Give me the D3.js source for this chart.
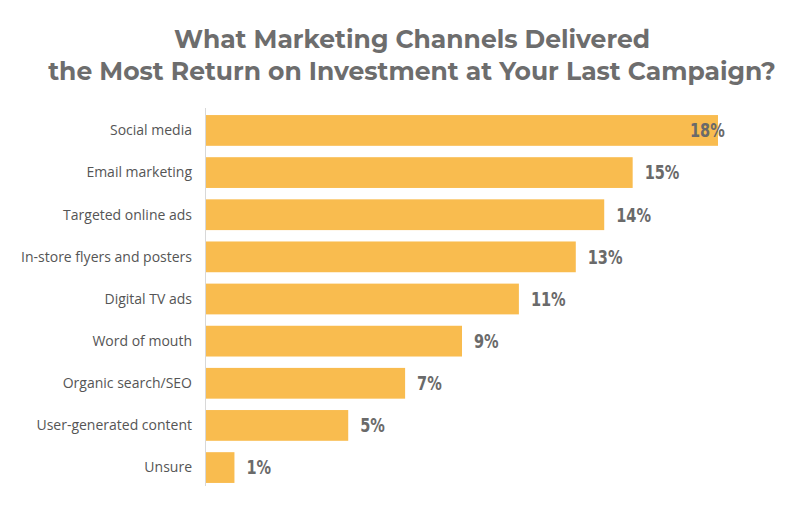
<!DOCTYPE html>
<html><head><meta charset="utf-8">
<script src="https://cdn.jsdelivr.net/npm/d3@7"></script>
<style>body{margin:0;background:#fff;overflow:hidden}</style>
</head><body><svg id="c" width="800" height="513"></svg>
<script>
const categories = ["Social media","Email marketing","Targeted online ads","In-store flyers and posters","Digital TV ads","Word of mouth","Organic search/SEO","User-generated content","Unsure"];
const values = [18,15,14,13,11,9,7,5,1];
const titleLines = ["What Marketing Channels Delivered","the Most Return on Investment at Your Last Campaign?"];

const svg = d3.select("#c");
const x = d3.scaleLinear().domain([0,18]).range([206,718]);
const y = d3.scaleBand().domain(categories).range([110,488]).paddingInner(0.27).paddingOuter(0.12);

svg.selectAll("text.t").data(titleLines).join("text")
  .attr("x",412).attr("y",(d,i)=>48+i*32).attr("text-anchor","middle")
  .attr("font-family","Montserrat, 'Open Sans', sans-serif").attr("font-weight",700)
  .attr("font-size",25).attr("fill","#6d6d6d").text(d=>d);

svg.selectAll("rect").data(values).join("rect")
  .attr("x",x(0)).attr("y",(d,i)=>y(categories[i])).attr("height",y.bandwidth())
  .attr("width",d=>x(d)-x(0)).attr("fill","#F9BC4F");

svg.append("line").attr("x1",205.5).attr("x2",205.5).attr("y1",108).attr("y2",486)
  .attr("stroke","#d8d8d8").attr("stroke-width",1);

svg.selectAll("text.c").data(categories).join("text")
  .attr("x",192).attr("y",(d)=>y(d)+y.bandwidth()/2).attr("dy","0.35em")
  .attr("text-anchor","end").attr("font-family","'Open Sans', sans-serif")
  .attr("font-size",14).attr("fill","#555").text(d=>d);

svg.selectAll("text.v").data(values).join("text")
  .attr("x",d=>Math.min(x(d)+12,690)).attr("y",(d,i)=>y(categories[i])+y.bandwidth()/2).attr("dy","0.36em")
  .attr("font-family","'DejaVu Sans Condensed', 'Liberation Sans Narrow', sans-serif")
  .attr("font-weight",700).attr("font-size",19).attr("fill","#6a6a6a")
  .attr("transform",(d,i)=>{const xx=Math.min(x(d)+12,690), yy=y(categories[i])+y.bandwidth()/2; return `translate(${xx},${yy}) scale(0.85,1) translate(${-xx},${-yy})`;})
  .text(d=>d+"%");
</script></body></html>
